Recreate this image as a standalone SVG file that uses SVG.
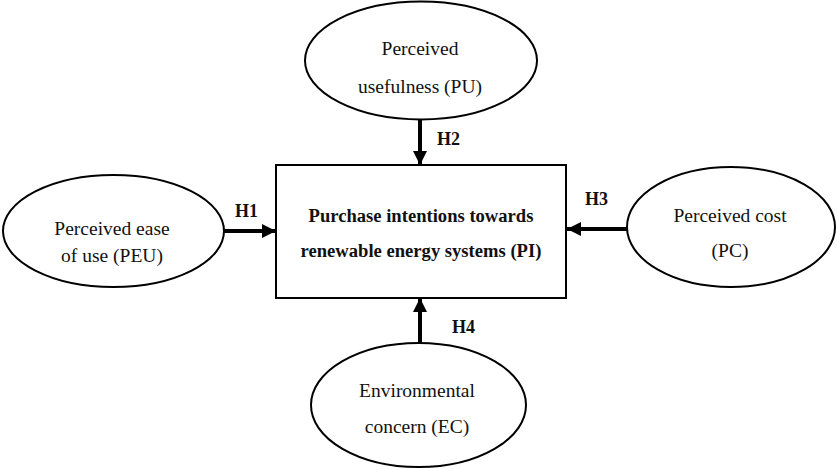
<svg xmlns="http://www.w3.org/2000/svg" width="837" height="469" viewBox="0 0 837 469">
<style>
.n{fill:#fff;stroke:#000;stroke-width:2}
.t{font-family:"Liberation Serif","DejaVu Serif",serif;font-size:19.5px;fill:#111;text-anchor:middle}
.b{font-family:"Liberation Serif","DejaVu Serif",serif;font-size:18.6px;font-weight:bold;fill:#111;text-anchor:middle}
.h{font-family:"Liberation Serif","DejaVu Serif",serif;font-size:18px;font-weight:bold;fill:#111}
.c{stroke:#000;stroke-width:4;fill:none}
</style>
<defs>
<marker id="ah" markerUnits="userSpaceOnUse" markerWidth="16" markerHeight="16" refX="14" refY="8" orient="auto">
<path d="M0,1 L14,8 L0,15 Z" fill="#000"/>
</marker>
</defs>
<g id="connectors">
<line class="c" x1="420" y1="120" x2="420" y2="165" marker-end="url(#ah)"/>
<line class="c" x1="224" y1="231" x2="276" y2="231" marker-end="url(#ah)"/>
<line class="c" x1="627" y1="229" x2="567" y2="229" marker-end="url(#ah)"/>
<line class="c" x1="420" y1="343" x2="420" y2="298" marker-end="url(#ah)"/>
<text class="h" x="437" y="145">H2</text>
<text class="h" x="235" y="217">H1</text>
<text class="h" x="585" y="205">H3</text>
<text class="h" x="452" y="333">H4</text>
</g>
<g id="PI">
<rect class="n" x="276" y="165" width="290" height="133"/>
<text class="b" x="421" y="222">Purchase intentions towards</text>
<text class="b" x="421" y="257">renewable energy systems (PI)</text>
</g>
<g id="PU">
<ellipse class="n" cx="421" cy="60.5" rx="116" ry="59"/>
<text class="t" x="420" y="55">Perceived</text>
<text class="t" x="420" y="93">usefulness (PU)</text>
</g>
<g id="PEU">
<ellipse class="n" cx="113.5" cy="231" rx="110.5" ry="56"/>
<text class="t" x="112" y="235">Perceived ease</text>
<text class="t" x="112" y="262">of use (PEU)</text>
</g>
<g id="PC">
<ellipse class="n" cx="731" cy="227" rx="104" ry="60"/>
<text class="t" x="730" y="222">Perceived cost</text>
<text class="t" x="730" y="257">(PC)</text>
</g>
<g id="EC">
<ellipse class="n" cx="418.5" cy="405" rx="107.5" ry="62"/>
<text class="t" x="417" y="397">Environmental</text>
<text class="t" x="417" y="433">concern (EC)</text>
</g>
</svg>
